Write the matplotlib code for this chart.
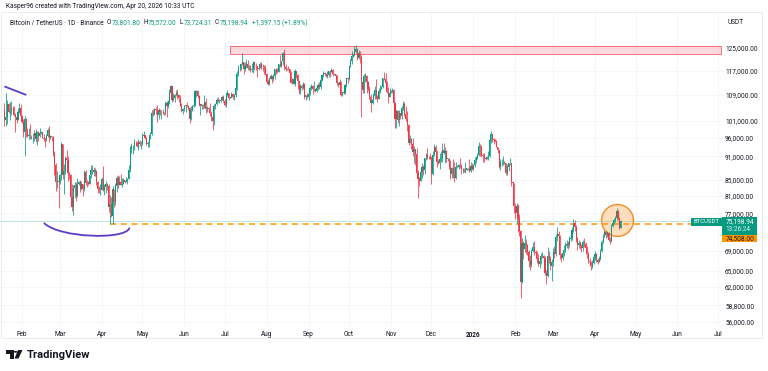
import matplotlib
matplotlib.use("Agg")
import matplotlib.dates as mdates
import matplotlib.pyplot as plt
import numpy as np
import pandas as pd
from matplotlib.patches import Circle, PathPatch, Polygon, Rectangle
from matplotlib.path import Path
from matplotlib.ticker import NullLocator

W, H = 768, 371
UP = "#089981"
DOWN = "#f23645"
INK = "#131722"
GRID = "#f1f3f6"
PURPLE = "#5b3cc4"
ORANGE = "#ff9800"

plt.rcParams["font.family"] = ["Roboto", "DejaVu Sans"]

# BTCUSDT daily candles (Binance), prices in thousands of USDT, one row per month
first_day = "2025-01-19"
first_open = 104.1
closes_k = [
    [101.3, 102.0, 106.1, 103.7, 103.9, 104.8, 104.7, 102.6, 102.1, 101.3, 103.7, 104.7, 102.4],
    [100.6, 97.7, 101.4, 97.9, 96.6, 96.6, 96.5, 96.5, 96.5, 97.4, 95.8, 97.8, 96.6, 97.5, 97.6, 96.1, 95.8, 95.5, 96.6, 98.3, 96.1, 96.6, 96.3, 91.5, 88.7, 84.3, 84.7, 84.3],
    [86.1, 94.3, 86.1, 87.2, 90.6, 89.9, 86.7, 86.2, 80.7, 78.5, 82.9, 83.7, 81.1, 83.9, 84.3, 82.6, 84.0, 82.7, 86.9, 84.2, 84.1, 83.8, 86.1, 87.5, 87.5, 86.9, 87.2, 84.4, 82.6, 82.4, 82.5],
    [85.2, 82.5, 83.1, 83.8, 83.5, 78.4, 79.1, 76.3, 82.6, 79.6, 83.4, 85.3, 83.7, 84.5, 83.6, 84.0, 84.9, 84.4, 85.0, 85.1, 87.5, 93.4, 93.7, 93.9, 94.7, 94.6, 93.7, 95.0, 94.2, 94.2],
    [96.5, 96.9, 95.9, 94.3, 94.7, 96.8, 97.0, 103.2, 102.9, 104.6, 104.1, 102.8, 104.1, 103.5, 103.7, 103.5, 103.2, 106.4, 105.6, 106.8, 109.6, 111.7, 107.3, 107.8, 109.0, 109.4, 108.9, 107.8, 105.6, 103.9, 104.6],
    [105.6, 105.8, 105.4, 104.7, 101.5, 104.3, 105.6, 105.7, 110.2, 110.3, 108.6, 105.7, 106.0, 105.4, 105.6, 106.8, 104.5, 104.8, 104.6, 103.3, 102.1, 100.9, 105.4, 106.0, 107.3, 106.9, 107.1, 107.3, 108.4, 107.1],
    [105.7, 108.8, 109.6, 108.0, 108.2, 109.2, 108.2, 108.9, 111.3, 115.9, 117.5, 117.4, 119.1, 119.8, 117.7, 118.7, 119.3, 117.9, 117.9, 117.3, 117.4, 119.9, 118.7, 118.4, 117.6, 117.9, 119.4, 118.0, 117.9, 117.8, 115.8],
    [113.3, 112.5, 114.2, 115.0, 114.1, 115.0, 117.5, 116.6, 116.5, 119.3, 118.7, 120.2, 123.3, 118.3, 117.4, 117.5, 117.4, 116.2, 112.9, 114.3, 112.5, 116.9, 115.4, 113.5, 110.1, 111.8, 111.2, 112.6, 108.4, 108.8, 108.2],
    [109.2, 111.2, 111.7, 110.7, 110.7, 110.2, 111.1, 112.0, 111.5, 113.9, 115.4, 116.1, 115.9, 115.3, 115.4, 116.8, 116.4, 117.1, 115.7, 115.7, 115.2, 112.7, 112.0, 113.3, 109.0, 109.7, 109.6, 112.1, 114.4, 114.0],
    [118.6, 120.5, 122.2, 122.4, 123.5, 124.7, 121.4, 123.3, 121.7, 113.2, 110.6, 115.2, 115.3, 113.0, 110.7, 108.2, 106.4, 107.2, 108.6, 110.5, 108.4, 107.6, 110.1, 111.0, 111.6, 114.5, 114.1, 112.9, 110.0, 108.3, 109.6],
    [110.1, 110.6, 106.5, 101.5, 103.9, 101.3, 103.3, 102.3, 104.7, 106.0, 103.0, 101.6, 99.7, 94.5, 95.6, 94.2, 92.2, 92.9, 91.5, 86.6, 85.1, 84.7, 86.8, 88.3, 87.3, 90.5, 91.3, 90.9, 90.8, 90.4],
    [86.3, 91.3, 93.5, 92.1, 89.4, 89.3, 90.4, 90.6, 92.7, 92.0, 92.5, 90.3, 90.3, 88.2, 86.4, 87.8, 86.1, 85.5, 88.1, 88.3, 88.6, 88.5, 87.6, 87.6, 87.2, 87.3, 87.8, 87.8, 87.1, 88.4, 87.6],
    [88.7, 90.0, 90.6, 91.4, 93.8, 93.7, 91.3, 91.0, 90.5, 90.4, 90.8, 91.1, 95.4, 97.0, 95.6, 95.5, 95.1, 93.6, 92.6, 88.3, 89.4, 89.5, 89.5, 89.2, 86.6, 88.3, 89.2, 89.2, 84.5, 84.1, 78.6],
    [77.0, 78.7, 75.7, 73.0, 62.9, 70.5, 69.3, 70.5, 70.1, 68.8, 67.0, 66.2, 68.9, 69.7, 68.8, 68.5, 67.5, 66.4, 66.9, 68.0, 68.0, 67.6, 64.6, 64.0, 67.9, 67.4, 65.9, 66.8],
    [68.8, 68.4, 71.8, 72.4, 72.0, 68.2, 67.5, 68.5, 69.2, 69.9, 70.4, 70.2, 71.3, 71.6, 73.4, 74.8, 73.9, 71.4, 70.2, 70.6, 69.9, 69.5, 70.8, 70.3, 69.6, 68.4, 67.0, 66.8, 66.0, 66.6, 67.8],
    [68.3, 67.2, 66.8, 67.4, 68.9, 70.8, 71.9, 72.8, 72.2, 72.6, 71.2, 70.9, 74.1, 74.8, 75.4, 75.9, 77.6, 75.9, 73.8018, 75.19894],
]
highs_k = [
    [106.3, 109.6, 107.2, 106.3, 106.8, 107.1, 105.3, 105.5, 103.2, 103.8, 104.8, 106.5, 106.0],
    [102.8, 101.5, 102.5, 101.7, 99.0, 99.0, 100.1, 96.9, 97.3, 98.3, 98.5, 98.1, 98.0, 98.8, 97.9, 97.7, 97.0, 96.0, 97.0, 98.8, 99.5, 96.9, 96.5, 96.5, 92.5, 89.3, 87.1, 85.1],
    [86.5, 95.0, 94.4, 88.9, 91.0, 92.8, 91.0, 86.9, 86.5, 83.9, 83.6, 84.4, 84.3, 85.3, 84.7, 85.0, 84.7, 84.0, 87.4, 87.4, 85.0, 84.6, 86.1, 88.8, 88.6, 88.3, 87.8, 87.5, 84.6, 83.5, 83.9],
    [85.6, 88.5, 83.9, 84.7, 84.2, 83.8, 81.2, 80.8, 83.5, 82.7, 84.2, 85.9, 86.1, 85.8, 86.5, 85.5, 85.5, 85.0, 85.6, 85.3, 88.8, 93.8, 94.7, 94.0, 95.7, 95.1, 95.2, 95.6, 95.4, 95.2],
    [97.4, 97.9, 96.9, 96.2, 95.2, 96.9, 97.7, 104.1, 104.4, 104.9, 105.0, 105.8, 104.9, 104.4, 104.2, 104.6, 103.7, 107.1, 107.1, 107.3, 110.8, 112.0, 111.9, 109.5, 109.3, 110.4, 110.7, 109.3, 108.9, 106.3, 104.9],
    [105.9, 105.9, 106.8, 105.9, 105.0, 105.5, 105.9, 106.2, 110.6, 110.4, 110.4, 108.9, 106.2, 106.2, 106.0, 108.9, 107.8, 105.6, 105.2, 106.5, 104.0, 103.0, 106.1, 106.3, 108.0, 108.3, 107.7, 107.6, 108.5, 108.8],
    [107.5, 109.8, 110.5, 109.7, 108.4, 109.8, 109.7, 109.2, 111.9, 116.9, 118.9, 118.0, 119.5, 123.2, 119.9, 120.1, 120.9, 120.8, 118.9, 118.9, 119.7, 120.2, 120.1, 119.5, 118.5, 118.3, 119.8, 119.8, 119.3, 118.8, 118.9],
    [116.1, 114.0, 114.8, 115.7, 115.1, 115.7, 117.6, 117.9, 117.9, 119.3, 122.3, 120.3, 123.7, 124.5, 119.2, 117.9, 118.6, 117.6, 116.8, 114.6, 114.8, 117.4, 117.0, 115.7, 113.6, 112.4, 112.6, 113.3, 112.7, 108.9, 109.5],
    [109.9, 111.8, 112.6, 112.1, 113.4, 111.0, 111.6, 112.9, 113.2, 114.3, 115.5, 116.7, 116.4, 116.1, 116.8, 116.9, 117.3, 117.9, 117.5, 116.1, 115.9, 115.4, 113.3, 114.0, 113.4, 110.3, 109.8, 112.4, 114.4, 114.8],
    [118.6, 121.0, 123.9, 122.9, 125.7, 126.2, 125.1, 124.2, 123.8, 122.6, 113.4, 115.8, 116.0, 115.6, 113.6, 111.8, 109.2, 107.5, 109.4, 111.7, 114.0, 109.0, 111.3, 112.0, 111.9, 114.6, 116.4, 116.1, 113.6, 111.6, 111.2],
    [110.6, 111.2, 110.8, 106.6, 104.5, 104.2, 104.1, 103.4, 105.5, 107.0, 106.6, 105.3, 104.0, 99.9, 96.8, 96.0, 96.0, 93.8, 92.9, 93.2, 87.5, 85.6, 88.1, 89.2, 88.8, 90.6, 91.9, 93.1, 91.2, 92.0],
    [91.0, 92.3, 94.2, 94.0, 92.7, 90.3, 91.8, 92.3, 94.6, 94.5, 93.6, 92.8, 90.6, 90.5, 90.0, 88.1, 90.4, 89.5, 89.4, 88.6, 89.0, 90.6, 88.9, 87.9, 88.0, 89.5, 88.0, 88.0, 90.4, 89.4, 89.2],
    [88.9, 90.9, 91.0, 91.8, 94.8, 94.4, 93.9, 91.8, 91.9, 90.8, 91.2, 92.4, 96.3, 97.9, 97.2, 95.9, 95.6, 95.4, 93.5, 92.7, 90.4, 90.3, 91.1, 89.8, 89.2, 88.9, 89.3, 90.5, 89.1, 84.6, 84.2],
    [79.3, 79.3, 79.0, 76.9, 73.4, 71.7, 71.0, 72.3, 71.4, 70.4, 69.2, 68.2, 69.3, 70.8, 70.9, 69.2, 68.9, 68.3, 67.6, 68.5, 68.7, 68.2, 67.9, 65.2, 69.8, 68.9, 68.0, 67.3],
    [69.6, 70.0, 72.5, 74.0, 73.0, 72.2, 68.6, 69.0, 70.2, 70.8, 71.2, 71.0, 72.0, 72.3, 73.9, 75.8, 75.4, 74.3, 71.9, 71.2, 71.0, 70.3, 71.2, 71.5, 70.7, 70.0, 68.8, 67.5, 67.0, 67.2, 68.3],
    [68.9, 68.6, 67.5, 67.9, 69.4, 71.2, 72.4, 73.3, 73.0, 73.1, 72.9, 71.8, 74.5, 75.3, 75.9, 76.4, 78.3, 77.8, 76.2, 75.572],
]
lows_k = [
    [99.5, 99.5, 100.1, 103.3, 101.2, 102.8, 104.1, 102.5, 97.8, 100.3, 101.3, 103.3, 101.6],
    [100.3, 96.2, 91.2, 96.2, 96.2, 95.7, 95.7, 95.7, 94.7, 95.3, 94.9, 94.1, 95.2, 96.3, 97.1, 96.0, 95.2, 93.4, 95.1, 96.4, 94.9, 95.8, 95.2, 91.2, 86.1, 82.3, 82.8, 78.2],
    [83.9, 85.0, 85.1, 81.5, 86.3, 87.9, 84.7, 85.2, 80.0, 77.5, 76.6, 80.6, 79.9, 80.8, 83.6, 82.0, 82.5, 81.1, 82.2, 83.6, 83.2, 83.6, 83.8, 85.5, 86.3, 85.8, 85.8, 83.6, 81.6, 81.6, 81.3],
    [82.4, 82.3, 81.2, 81.7, 82.4, 77.2, 74.508, 76.2, 74.6, 78.4, 78.9, 82.0, 83.0, 83.7, 83.6, 83.1, 83.9, 84.1, 84.3, 83.9, 85.1, 87.0, 91.9, 91.6, 92.8, 93.8, 93.5, 92.8, 93.9, 92.9],
    [94.1, 96.3, 95.7, 94.0, 93.5, 93.4, 95.8, 96.9, 102.3, 102.8, 103.1, 100.7, 101.4, 102.6, 101.4, 103.1, 102.6, 102.6, 102.0, 104.8, 106.1, 109.3, 106.8, 106.9, 106.6, 108.7, 107.6, 106.8, 105.3, 103.6, 103.1],
    [103.9, 103.7, 105.0, 104.2, 100.4, 101.1, 103.9, 105.1, 105.3, 108.4, 108.1, 105.6, 102.7, 104.4, 104.5, 104.9, 103.4, 103.5, 103.9, 102.3, 100.8, 98.2, 99.6, 104.6, 105.8, 106.6, 106.4, 106.8, 107.2, 106.7],
    [105.3, 105.1, 108.6, 107.3, 107.8, 107.8, 107.5, 107.4, 108.3, 110.6, 115.2, 116.9, 117.3, 118.9, 115.7, 117.0, 117.8, 117.1, 117.3, 116.5, 116.5, 116.1, 117.3, 117.1, 114.7, 117.3, 117.8, 117.4, 116.9, 115.8, 115.5],
    [112.7, 112.0, 112.2, 114.0, 112.7, 113.4, 114.3, 115.9, 116.3, 116.5, 118.1, 118.2, 118.9, 117.2, 116.8, 117.2, 117.2, 114.7, 112.7, 112.4, 112.4, 111.7, 114.6, 110.8, 109.3, 109.3, 110.4, 110.9, 107.5, 107.4, 108.1],
    [107.3, 108.8, 110.5, 109.3, 110.2, 110.0, 110.0, 110.6, 110.8, 110.9, 113.4, 114.7, 115.2, 114.8, 114.4, 114.8, 114.7, 116.4, 115.1, 115.4, 115.1, 112.0, 111.5, 111.1, 108.6, 108.6, 109.1, 109.3, 111.6, 112.7],
    [113.9, 118.1, 119.3, 121.6, 122.1, 123.0, 120.6, 121.1, 119.7, 102.0, 109.6, 109.6, 113.0, 109.7, 110.2, 107.5, 103.5, 106.3, 106.1, 107.5, 107.5, 106.6, 107.5, 109.7, 110.7, 111.3, 113.8, 112.2, 109.6, 106.3, 108.6],
    [109.4, 109.6, 105.3, 98.9, 98.9, 100.3, 99.3, 101.5, 101.4, 104.3, 102.5, 100.8, 98.0, 94.0, 94.6, 93.0, 91.2, 89.3, 88.6, 86.1, 80.6, 83.5, 84.7, 85.3, 86.1, 86.3, 90.1, 90.2, 90.3, 90.3],
    [83.8, 86.2, 91.0, 90.9, 88.1, 88.9, 87.7, 89.6, 89.5, 91.6, 89.3, 89.5, 89.8, 87.6, 85.2, 85.3, 85.3, 84.4, 85.1, 87.9, 87.6, 88.0, 86.5, 86.6, 86.9, 86.6, 87.3, 87.4, 86.8, 86.9, 87.3],
    [87.4, 88.3, 89.2, 90.2, 91.0, 91.2, 90.8, 89.4, 89.6, 90.1, 90.2, 90.0, 90.9, 94.5, 95.0, 94.3, 94.9, 93.5, 91.9, 87.8, 87.3, 88.5, 88.6, 88.9, 86.1, 86.1, 87.1, 88.7, 83.3, 81.1, 77.1],
    [75.6, 74.6, 72.9, 72.1, 60.0, 62.8, 67.3, 68.8, 68.3, 68.2, 65.8, 65.1, 65.8, 68.7, 68.1, 67.4, 66.6, 65.9, 65.6, 66.4, 67.6, 67.1, 64.2, 62.5, 63.9, 66.6, 65.2, 63.2],
    [66.0, 67.5, 68.0, 71.0, 70.8, 67.4, 66.8, 67.2, 67.9, 68.7, 69.5, 69.3, 69.8, 70.9, 71.2, 72.9, 73.0, 70.8, 69.2, 69.6, 69.4, 68.8, 68.9, 69.8, 69.1, 67.6, 66.5, 66.2, 65.1, 65.6, 66.3],
    [67.2, 66.7, 66.4, 66.8, 67.1, 68.7, 70.5, 71.8, 71.6, 71.9, 70.9, 70.3, 70.8, 74.0, 74.6, 75.0, 75.4, 75.4, 73.5, 73.72431],
]

price_ticks = [125000, 117000, 109000, 101000, 96000, 91000, 85000, 81000, 77000,
               69000, 65000, 62000, 58800, 56000]
last_price = 75198.94
support = 74508.00
support_from = "2025-04-07 00:00"
zone_lo, zone_hi = 122800, 125700
zone_from, zone_to = "2025-07-05 00:00", "2026-07-03 00:00"
trend_dates = ["2025-01-19 10:00", "2025-02-03 17:00"]
trend_prices = [111600, 109000]
arc_dates = ["2025-02-17 12:00", "2025-03-01 00:00", "2025-04-18 00:00", "2025-04-21 10:00"]
arc_prices = [74760, 71600, 71190, 73680]
circle_date, circle_price = "2026-04-17 14:00", 75490

c = np.concatenate([np.array(m, float) for m in closes_k]) * 1000
hi = np.concatenate([np.array(m, float) for m in highs_k]) * 1000
lo = np.concatenate([np.array(m, float) for m in lows_k]) * 1000
assert len(c) == len(hi) == len(lo)
o = np.concatenate([[first_open * 1000], c[:-1]])
hi = np.maximum(hi, np.maximum(o, c))
lo = np.minimum(lo, np.minimum(o, c))
dates = pd.date_range(first_day, periods=len(c), freq="D")
x = mdates.date2num(dates)
col = np.where(c >= o, UP, DOWN)


def dnum(s):
    return mdates.date2num(pd.Timestamp(s))


def fx(px):
    return px / W


def fy(py):
    return 1 - py / H


fig = plt.figure(figsize=(W / 100, H / 100), dpi=100, facecolor="white")
ax = fig.add_axes([0, fy(326), fx(723), (326 - 13) / H])
ax.set_facecolor("white")
ax.set_yscale("log")
ax.set_ylim(55316, 138511)
ax.set_xlim(dnum("2025-01-15 17:00"), dnum("2026-07-04 17:00"))

month_ticks = pd.date_range("2025-02-01", "2026-07-01", freq="MS")
ax.set_xticks(mdates.date2num(month_ticks))
ax.set_xticklabels(["2026" if d.month == 1 else d.strftime("%b") for d in month_ticks])
for lab, d in zip(ax.get_xticklabels(), month_ticks):
    if d.month == 1:
        lab.set_fontweight("bold")
ax.yaxis.tick_right()
ax.set_yticks(price_ticks)
ax.set_yticklabels([f"{t:,.2f}" for t in price_ticks])
ax.yaxis.set_minor_locator(NullLocator())
ax.tick_params(axis="y", length=0, pad=1.5, labelsize=4.7, labelcolor=INK)
ax.tick_params(axis="x", length=0, pad=3.5, labelsize=4.7, labelcolor=INK)
ax.grid(True, color=GRID, linewidth=0.5)
ax.set_axisbelow(True)
for s in ax.spines.values():
    s.set_visible(False)

# resistance zone
zx0, zx1 = dnum(zone_from), dnum(zone_to)
ax.add_patch(Rectangle((zx0, zone_lo), zx1 - zx0, zone_hi - zone_lo,
                       facecolor=DOWN, alpha=0.18, edgecolor="none", zorder=1))
ax.add_patch(Rectangle((zx0, zone_lo), zx1 - zx0, zone_hi - zone_lo,
                       facecolor="none", edgecolor=DOWN, linewidth=0.6, alpha=0.8, zorder=1))

# last price line and support
ax.axhline(last_price, color=UP, alpha=0.3, linewidth=0.6, zorder=1)
ax.hlines(support, dnum(support_from), ax.get_xlim()[1],
          color=ORANGE, linewidth=1.1, linestyles=(0, (4, 3)), zorder=2)

# candles
ax.vlines(x, lo, hi, colors=col, linewidth=0.55, zorder=3)
body = np.maximum(np.abs(c - o), c * 0.0012)
ax.bar(x, body, bottom=np.minimum(o, c), width=0.8, color=col, linewidth=0, zorder=4)

# drawings
ax.plot([dnum(d) for d in trend_dates], trend_prices, color=PURPLE,
        linewidth=1.3, solid_capstyle="round", zorder=5)
arc_x = [dnum(d) for d in arc_dates]
arc = Path(list(zip(arc_x, arc_prices)), [Path.MOVETO, Path.CURVE4, Path.CURVE4, Path.CURVE4])
ax.add_patch(PathPatch(arc, facecolor="none", edgecolor=PURPLE, linewidth=1.3,
                       capstyle="round", zorder=5))
ax.plot([dnum(circle_date)], [circle_price], "o", markersize=23,
        markerfacecolor=(1.0, 0.6, 0.2, 0.32), markeredgecolor="#f08c2a",
        markeredgewidth=1.0, zorder=2.5)

# panel frame
fig.add_artist(Rectangle((fx(0.5), fy(338)), fx(761.5), (338 - 12) / H, transform=fig.transFigure,
                         facecolor="none", edgecolor="#e6e8ee", linewidth=0.6))


def ftext(px, py, s, **kw):
    kw.setdefault("fontsize", 4.7)
    kw.setdefault("color", INK)
    kw.setdefault("va", "center")
    fig.text(fx(px), fy(py), s, **kw)


def fbox(x0, y0, x1, y1, color):
    fig.add_artist(Rectangle((fx(x0), fy(y1)), fx(x1 - x0), (y1 - y0) / H,
                             transform=fig.transFigure, facecolor=color, edgecolor="none"))


ftext(6, 7, "Kasper96 created with TradingView.com, Apr 20, 2026 10:33 UTC")
ftext(10, 23, "Bitcoin / TetherUS · 1D · Binance")
for px, s, val in [(107, "O", "73,801.80"), (143, "H", "75,572.00"),
                   (179, "L", "73,724.31"), (215, "C", "75,198.94")]:
    ftext(px, 23, s)
    ftext(px + 4.4, 23, val, color=UP)
ftext(252, 23, "+1,397.15 (+1.89%)", color=UP)
ftext(728, 23, "USDT")

# price scale labels
fbox(691, 218, 721.5, 225.5, UP)
ftext(706, 221.8, "BTCUSDT", color="white", ha="center", fontsize=4.3)
fbox(722, 217, 757, 234.5, UP)
ftext(725.5, 221.5, f"{last_price:,.2f}", color="white")
ftext(725.5, 229.5, "13:26:24", color="#d6f2ee")
fbox(722, 234.5, 757, 242, ORANGE)
ftext(725.5, 238.3, f"{support:,.2f}", color=INK)

# TradingView logo
fig.add_artist(Polygon([(fx(6), fy(350)), (fx(13.5), fy(350)), (fx(13.5), fy(358.5)),
                        (fx(10), fy(358.5)), (fx(10), fy(353.5)), (fx(6), fy(353.5))],
                       closed=True, transform=fig.transFigure, facecolor=INK, edgecolor="none"))
fig.add_artist(Circle((fx(15.6), fy(351.8)), 1.8 / W, transform=fig.transFigure,
                      facecolor=INK, edgecolor="none"))
fig.add_artist(Polygon([(fx(18), fy(350)), (fx(22.5), fy(350)), (fx(18.5), fy(358.5)),
                        (fx(14.5), fy(358.5))],
                       closed=True, transform=fig.transFigure, facecolor=INK, edgecolor="none"))
ftext(26.5, 354.5, "TradingView", fontsize=8.0, fontweight="bold")

fig.savefig("out.png", dpi=100, facecolor="white")
